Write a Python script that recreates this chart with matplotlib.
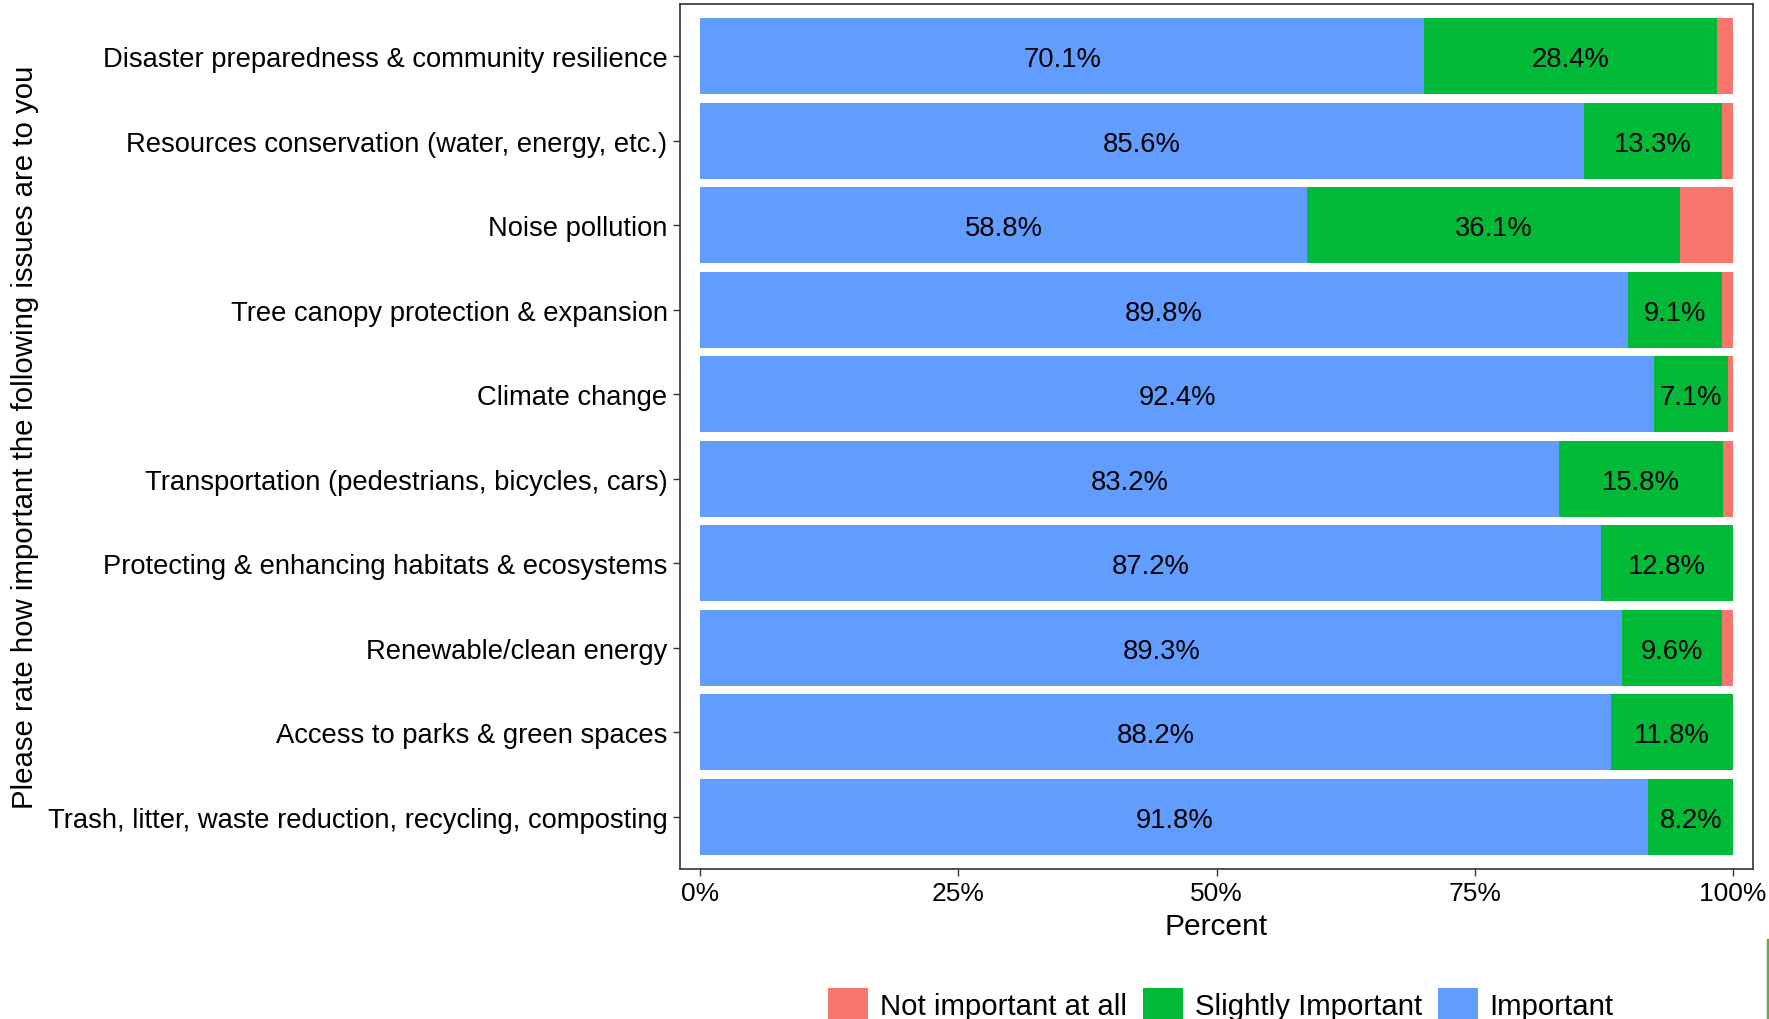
import matplotlib
matplotlib.use("Agg")
import matplotlib.pyplot as plt
from matplotlib.patches import Patch
from matplotlib.lines import Line2D
import numpy as np

plt.rcParams['font.family'] = ['Liberation Sans', 'DejaVu Sans']

categories = [
    "Disaster preparedness & community resilience",
    "Resources conservation (water, energy, etc.)",
    "Noise pollution",
    "Tree canopy protection & expansion",
    "Climate change",
    "Transportation (pedestrians, bicycles, cars)",
    "Protecting & enhancing habitats & ecosystems",
    "Renewable/clean energy",
    "Access to parks & green spaces",
    "Trash, litter, waste reduction, recycling, composting",
]
important = [70.1, 85.6, 58.8, 89.8, 92.4, 83.2, 87.2, 89.3, 88.2, 91.8]
slightly = [28.4, 13.3, 36.1, 9.1, 7.1, 15.8, 12.8, 9.6, 11.8, 8.2]
not_important = [1.5, 1.1, 5.1, 1.1, 0.5, 1.0, 0.0, 1.1, 0.0, 0.0]
xtick_labels = ["0%", "25%", "50%", "75%", "100%"]
legend_labels = ["Not important at all", "Slightly Important", "Important"]

c_red = "#F8766D"
c_green = "#00BA38"
c_blue = "#619CFF"

W, H = 1769, 1020
fig = plt.figure(figsize=(W / 100, H / 100), dpi=100)
ax = fig.add_axes([680 / W, 1 - 870 / H, (1753 - 680) / W, (870 - 5) / H])

n = len(categories)
y = np.arange(n)[::-1]
imp = np.array(important) / 100
sl = np.array(slightly) / 100
ni = np.array(not_important) / 100

ax.barh(y, imp, height=0.9, color=c_blue, left=0, edgecolor='none')
ax.barh(y, sl, height=0.9, color=c_green, left=imp, edgecolor='none')
ax.barh(y, ni, height=0.9, color=c_red, left=imp + sl, edgecolor='none')

fs_lab = 19.7
for yi, a, b in zip(y, imp, sl):
    ax.text(a / 2, yi, f"{a*100:.1f}%", ha='center', va='center_baseline', fontsize=fs_lab, color='black')
    ax.text(a + b / 2, yi, f"{b*100:.1f}%", ha='center', va='center_baseline', fontsize=fs_lab, color='black')

ax.set_xlim(-0.0194, 1.0194)
ax.set_ylim(-0.62, n - 1 + 0.62)
ax.set_yticks(y)
ax.set_yticklabels(categories, fontsize=19.7)
ax.set_xticks([0, 0.25, 0.5, 0.75, 1.0])
ax.set_xticklabels(xtick_labels, fontsize=19)
ax.tick_params(axis='both', length=5, width=1, color='#333333', pad=4)
for s in ax.spines.values():
    s.set_color('#333333')
    s.set_linewidth(1.2)

ax.set_xlabel("Percent", fontsize=21.5, labelpad=5)
fig.text(25 / W, 1 - 437 / H, "Please rate how important the following issues are to you",
         rotation=90, ha='center', va='center', fontsize=21.2)

handles = [Patch(facecolor=c, edgecolor='none') for c in (c_red, c_green, c_blue)]
fig.legend(handles, legend_labels, loc='upper center', bbox_to_anchor=(1221 / W, 1 - 977 / H),
           ncol=3, frameon=False, fontsize=21.2, handlelength=1.35, handleheight=1.35,
           columnspacing=0.55, handletextpad=0.4, borderaxespad=0)

fig.add_artist(Line2D([1767.5 / W, 1767.5 / W], [0, 1 - 941 / H], color='#6aaa3a', lw=2.5,
                      transform=fig.transFigure))

fig.savefig("out.png", dpi=100)
